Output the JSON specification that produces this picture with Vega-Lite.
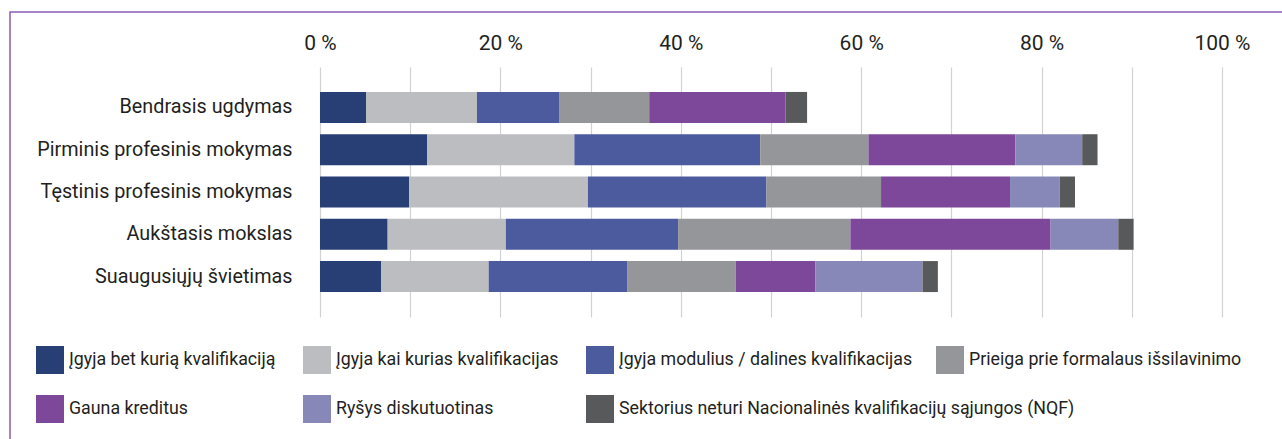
{
  "$schema": "https://vega.github.io/schema/vega-lite/v6.json",
  "width": 1282,
  "height": 437,
  "autosize": {"type": "none"},
  "padding": {"left": 10, "top": 12, "right": -10, "bottom": -10},
  "background": "#ffffff",
  "config": {
    "font": "Roboto",
    "view": {"stroke": "#8c5cb4", "strokeWidth": 1.5},
    "legend": {
      "orient": "none",
      "title": null,
      "symbolType": "square",
      "symbolSize": 784,
      "symbolStrokeWidth": 0,
      "labelFontSize": 17.8,
      "labelColor": "#231f20",
      "labelOffset": 5,
      "labelLimit": 700,
      "padding": 0
    }
  },
  "data": {
    "values": [
      {"c": "Bendrasis ugdymas", "s": "Įgyja bet kurią kvalifikaciją", "v": 5.1},
      {"c": "Bendrasis ugdymas", "s": "Įgyja kai kurias kvalifikacijas", "v": 12.3},
      {"c": "Bendrasis ugdymas", "s": "Įgyja modulius / dalines kvalifikacijas", "v": 9.1},
      {"c": "Bendrasis ugdymas", "s": "Prieiga prie formalaus išsilavinimo", "v": 10.0},
      {"c": "Bendrasis ugdymas", "s": "Gauna kreditus", "v": 15.1},
      {"c": "Bendrasis ugdymas", "s": "Ryšys diskutuotinas", "v": 0},
      {"c": "Bendrasis ugdymas", "s": "Sektorius neturi Nacionalinės kvalifikacijų sąjungos (NQF)", "v": 2.4},
      {"c": "Pirminis profesinis mokymas", "s": "Įgyja bet kurią kvalifikaciją", "v": 11.9},
      {"c": "Pirminis profesinis mokymas", "s": "Įgyja kai kurias kvalifikacijas", "v": 16.3},
      {"c": "Pirminis profesinis mokymas", "s": "Įgyja modulius / dalines kvalifikacijas", "v": 20.6},
      {"c": "Pirminis profesinis mokymas", "s": "Prieiga prie formalaus išsilavinimo", "v": 12.0},
      {"c": "Pirminis profesinis mokymas", "s": "Gauna kreditus", "v": 16.3},
      {"c": "Pirminis profesinis mokymas", "s": "Ryšys diskutuotinas", "v": 7.4},
      {"c": "Pirminis profesinis mokymas", "s": "Sektorius neturi Nacionalinės kvalifikacijų sąjungos (NQF)", "v": 1.7},
      {"c": "Tęstinis profesinis mokymas", "s": "Įgyja bet kurią kvalifikaciją", "v": 9.9},
      {"c": "Tęstinis profesinis mokymas", "s": "Įgyja kai kurias kvalifikacijas", "v": 19.8},
      {"c": "Tęstinis profesinis mokymas", "s": "Įgyja modulius / dalines kvalifikacijas", "v": 19.8},
      {"c": "Tęstinis profesinis mokymas", "s": "Prieiga prie formalaus išsilavinimo", "v": 12.7},
      {"c": "Tęstinis profesinis mokymas", "s": "Gauna kreditus", "v": 14.3},
      {"c": "Tęstinis profesinis mokymas", "s": "Ryšys diskutuotinas", "v": 5.5},
      {"c": "Tęstinis profesinis mokymas", "s": "Sektorius neturi Nacionalinės kvalifikacijų sąjungos (NQF)", "v": 1.7},
      {"c": "Aukštasis mokslas", "s": "Įgyja bet kurią kvalifikaciją", "v": 7.5},
      {"c": "Aukštasis mokslas", "s": "Įgyja kai kurias kvalifikacijas", "v": 13.1},
      {"c": "Aukštasis mokslas", "s": "Įgyja modulius / dalines kvalifikacijas", "v": 19.1},
      {"c": "Aukštasis mokslas", "s": "Prieiga prie formalaus išsilavinimo", "v": 19.1},
      {"c": "Aukštasis mokslas", "s": "Gauna kreditus", "v": 22.2},
      {"c": "Aukštasis mokslas", "s": "Ryšys diskutuotinas", "v": 7.5},
      {"c": "Aukštasis mokslas", "s": "Sektorius neturi Nacionalinės kvalifikacijų sąjungos (NQF)", "v": 1.7},
      {"c": "Suaugusiųjų švietimas", "s": "Įgyja bet kurią kvalifikaciją", "v": 6.8},
      {"c": "Suaugusiųjų švietimas", "s": "Įgyja kai kurias kvalifikacijas", "v": 11.9},
      {"c": "Suaugusiųjų švietimas", "s": "Įgyja modulius / dalines kvalifikacijas", "v": 15.4},
      {"c": "Suaugusiųjų švietimas", "s": "Prieiga prie formalaus išsilavinimo", "v": 12.0},
      {"c": "Suaugusiųjų švietimas", "s": "Gauna kreditus", "v": 8.8},
      {"c": "Suaugusiųjų švietimas", "s": "Ryšys diskutuotinas", "v": 11.9},
      {"c": "Suaugusiųjų švietimas", "s": "Sektorius neturi Nacionalinės kvalifikacijų sąjungos (NQF)", "v": 1.7}
    ]
  },
  "transform": [{"stack": "v", "groupby": ["c"], "as": ["v0", "v1"]}],
  "encoding": {
    "y": {
      "field": "c",
      "type": "nominal",
      "title": null,
      "scale": {
        "domain": ["Bendrasis ugdymas", "Pirminis profesinis mokymas", "Tęstinis profesinis mokymas", "Aukštasis mokslas", "Suaugusiųjų švietimas"],
        "range": [55, 305],
        "paddingInner": 0.267,
        "paddingOuter": 0.59
      },
      "axis": {
        "ticks": false,
        "domain": false,
        "labelFontSize": 19.8,
        "labelColor": "#231f20",
        "labelAlign": "right",
        "labelPadding": -282,
        "labelLimit": 400
      }
    },
    "x": {
      "field": "v0",
      "type": "quantitative",
      "title": null,
      "scale": {"domain": [-34.368, 107.76], "nice": false, "zero": false},
      "axis": {
        "orient": "top",
        "values": [0, 10, 20, 30, 40, 50, 60, 70, 80, 90, 100],
        "labelExpr": "datum.value % 20 === 0 ? datum.value + ' %' : ''",
        "ticks": false,
        "domain": false,
        "grid": true,
        "gridColor": "#d2d2d2",
        "gridWidth": 1.2,
        "labelFlush": false,
        "labelOverlap": false,
        "labelFontSize": 21,
        "labelColor": "#231f20",
        "labelBaseline": "middle",
        "labelPadding": -31
      }
    },
    "x2": {"field": "v1"}
  },
  "layer": [
    {
      "transform": [{"filter": "datum.s === 'Įgyja bet kurią kvalifikaciją'"}],
      "mark": {"type": "bar"},
      "encoding": {"color": {"field": "s", "type": "nominal", "scale": {"domain": ["Įgyja bet kurią kvalifikaciją"], "range": ["#283f76"]}, "legend": {"legendX": 26, "legendY": 334}}}
    },
    {
      "transform": [{"filter": "datum.s === 'Įgyja kai kurias kvalifikacijas'"}],
      "mark": {"type": "bar"},
      "encoding": {"color": {"field": "s", "type": "nominal", "scale": {"domain": ["Įgyja kai kurias kvalifikacijas"], "range": ["#bcbdc0"]}, "legend": {"legendX": 293, "legendY": 334}}}
    },
    {
      "transform": [{"filter": "datum.s === 'Įgyja modulius / dalines kvalifikacijas'"}],
      "mark": {"type": "bar"},
      "encoding": {"color": {"field": "s", "type": "nominal", "scale": {"domain": ["Įgyja modulius / dalines kvalifikacijas"], "range": ["#4c5a9e"]}, "legend": {"legendX": 576, "legendY": 334}}}
    },
    {
      "transform": [{"filter": "datum.s === 'Prieiga prie formalaus išsilavinimo'"}],
      "mark": {"type": "bar"},
      "encoding": {"color": {"field": "s", "type": "nominal", "scale": {"domain": ["Prieiga prie formalaus išsilavinimo"], "range": ["#959699"]}, "legend": {"legendX": 926, "legendY": 334}}}
    },
    {
      "transform": [{"filter": "datum.s === 'Gauna kreditus'"}],
      "mark": {"type": "bar"},
      "encoding": {"color": {"field": "s", "type": "nominal", "scale": {"domain": ["Gauna kreditus"], "range": ["#7d4899"]}, "legend": {"legendX": 26, "legendY": 383}}}
    },
    {
      "transform": [{"filter": "datum.s === 'Ryšys diskutuotinas'"}],
      "mark": {"type": "bar"},
      "encoding": {"color": {"field": "s", "type": "nominal", "scale": {"domain": ["Ryšys diskutuotinas"], "range": ["#8788b8"]}, "legend": {"legendX": 293, "legendY": 383}}}
    },
    {
      "transform": [{"filter": "datum.s === 'Sektorius neturi Nacionalinės kvalifikacijų sąjungos (NQF)'"}],
      "mark": {"type": "bar"},
      "encoding": {"color": {"field": "s", "type": "nominal", "scale": {"domain": ["Sektorius neturi Nacionalinės kvalifikacijų sąjungos (NQF)"], "range": ["#58595b"]}, "legend": {"legendX": 576, "legendY": 383}}}
    }
  ],
  "resolve": {"scale": {"color": "independent"}}
}
